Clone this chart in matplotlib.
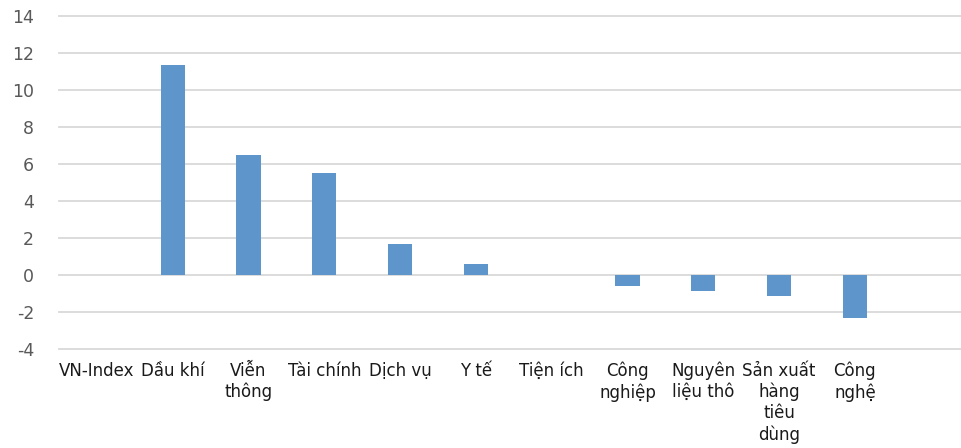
import matplotlib
matplotlib.use("Agg")
import matplotlib.pyplot as plt

categories = ["VN-Index", "Dầu khí", "Viễn\nthông", "Tài chính", "Dịch vụ", "Y tế",
              "Tiện ích", "Công\nnghiệp", "Nguyên\nliệu thô", "Sản xuất\nhàng\ntiêu\ndùng",
              "Công\nnghệ", ""]
values = [0.0, 11.35, 6.47, 5.5, 1.7, 0.58, 0.0, -0.6, -0.88, -1.12, -2.3, 0.0]
yticks = [-4, -2, 0, 2, 4, 6, 8, 10, 12, 14]

fig = plt.figure(figsize=(9.61, 4.48), dpi=100)
ax = fig.add_axes([59 / 961, 1 - 349 / 448, 1 - 59 / 961, (349 - 16) / 448])

x = list(range(len(categories)))
ax.bar(x, values, width=0.32, color="#5E96CB", zorder=3)

ax.set_ylim(-4, 14)
ax.set_xlim(-0.5, 11.4)
ax.set_yticks(yticks)
ax.set_yticklabels([str(v) for v in yticks], fontsize=12.5, color="#595959")
ax.set_xticks(x)
ax.set_xticklabels(categories, fontsize=12, color="#1a1a1a", linespacing=1.22, va="top")
ax.tick_params(axis="y", length=0, pad=18)
ax.tick_params(axis="x", length=0, pad=9)
ax.grid(axis="y", color="#D9D9D9", linewidth=1.3, zorder=0)
for gl in ax.get_ygridlines():
    gl.set_clip_on(False)
for s in ax.spines.values():
    s.set_visible(False)

plt.savefig("out.png", dpi=100)
plt.close()
